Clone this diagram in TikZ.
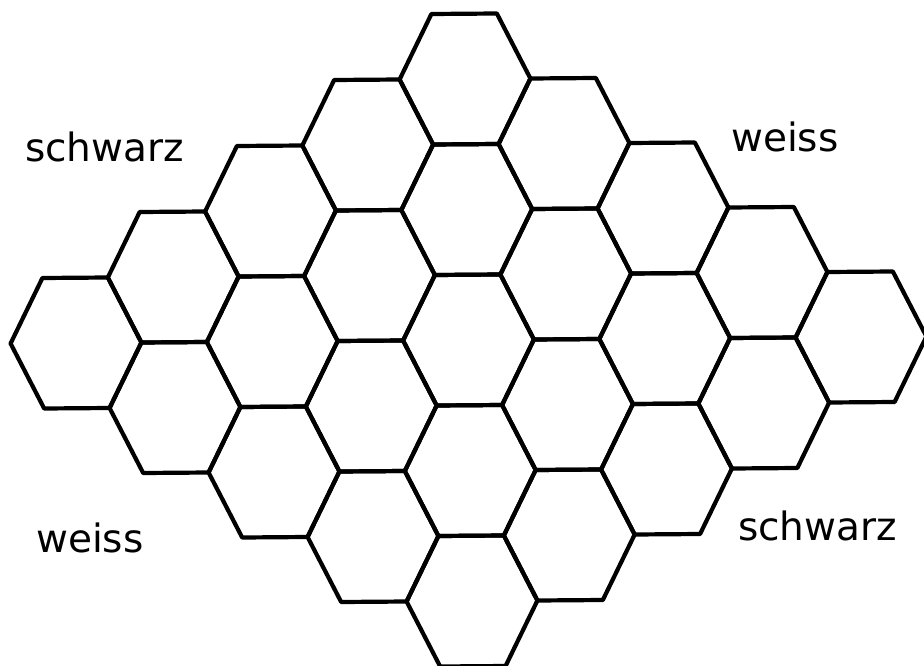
\documentclass[tikz,border=0pt]{standalone}
\usepackage{fontspec}
\setsansfont{DejaVu Sans}
\tikzset{
  hexcell/.style={draw=black, line width=4.2pt, line join=round},
  lbl/.style={font=\sffamily\fontsize{39}{41}\selectfont, anchor=base west, inner sep=0pt, text=black}
}
\begin{document}
\begin{tikzpicture}[x=1pt,y=-1pt]
\useasboundingbox (0,0) rectangle (924,666);
\foreach \i in {0,...,4}{
  \foreach \j in {0,...,4}{
    \pgfmathsetmacro\cx{465-97.25*\i+99*\j}
    \pgfmathsetmacro\cy{79+66*\i+64.5*\j}
    \draw[hexcell] (\cx+65.417,\cy-0.5) -- (\cx+33.583,\cy+65) -- (\cx-31.833,\cy+65.5)
      -- (\cx-65.417,\cy+0.5) -- (\cx-33.583,\cy-65) -- (\cx+31.833,\cy-65.5) -- cycle;
  }
}
\node[lbl] (sw1) at (25,161) {schwarz};
\node[lbl] (ws1) at (731,152) {weiss};
\node[lbl] (ws2) at (36,552) {weiss};
\node[lbl] (sw2) at (738,540) {schwarz};
\end{tikzpicture}
\end{document}
